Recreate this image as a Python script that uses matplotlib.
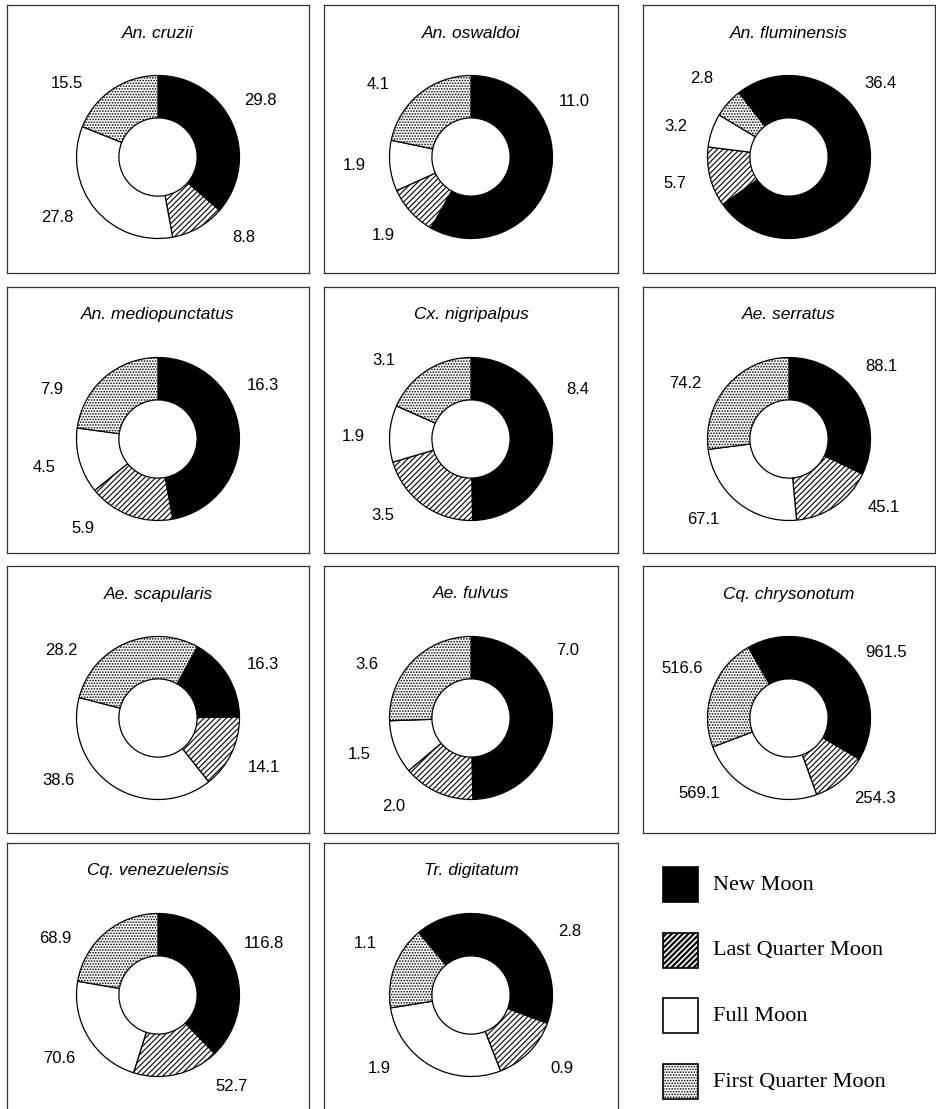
import numpy as np
import matplotlib.pyplot as plt
from matplotlib.patches import Rectangle

plt.rcParams["font.family"] = ["Liberation Sans", "DejaVu Sans"]
plt.rcParams["hatch.linewidth"] = 0.8

# data: mean catches per moon phase
species = ["An. cruzii", "An. oswaldoi", "An. fluminensis",
           "An. mediopunctatus", "Cx. nigripalpus", "Ae. serratus",
           "Ae. scapularis", "Ae. fulvus", "Cq. chrysonotum",
           "Cq. venezuelensis", "Tr. digitatum"]
new_moon = [29.8, 11.0, 36.4, 16.3, 8.4, 88.1, 16.3, 7.0, 961.5, 116.8, 2.8]
last_quarter = [8.8, 1.9, 5.7, 5.9, 3.5, 45.1, 14.1, 2.0, 254.3, 52.7, 0.9]
full_moon = [27.8, 1.9, 3.2, 4.5, 1.9, 67.1, 38.6, 1.5, 569.1, 70.6, 1.9]
first_quarter = [15.5, 4.1, 2.8, 7.9, 3.1, 74.2, 28.2, 3.6, 516.6, 68.9, 1.1]
phases = ["New Moon", "Last Quarter Moon", "Full Moon", "First Quarter Moon"]

# style / layout
face_colors = ["black", "white", "white", "white"]
hatches = [None, "//////", None, "......"]
start_angles = [0, 0, -38, 0, 0, 0, 29, 0, -30, 0, -40]   # degrees clockwise from top
label_angles = [[61, 133, 239, 309], [62, 228, 266, 308], [51, 257, 285, 312],
                [63, 220, 256, 295], [65, 229, 271, 312], [52, 126, 227, 298],
                [63, 115, 238, 305], [55, 221, 252, 297], [56, 133, 230, 295],
                [64, 141, 237, 299], [57, 129, 231, 296]]

W, H = 936, 1109
col_x = [7, 324, 643]
col_w = [302, 294, 292]
row_y = [5, 287, 566, 843]
row_h = [268, 266, 267, 272]
R = 81.5          # outer radius in px
ring_dy = 152     # ring centre below panel top
title_dy = 28
label_r = 1.44

fig = plt.figure(figsize=(W / 100, H / 100), dpi=100)


def px_axes(x0, y0, w, h):
    return fig.add_axes([x0 / W, 1 - (y0 + h) / H, w / W, h / H])


for i, name in enumerate(species):
    r, c = divmod(i, 3)
    x0, y0, w, h = col_x[c], row_y[r], col_w[c], row_h[r]
    ax = px_axes(x0, y0, w, h)
    vals = [new_moon[i], last_quarter[i], full_moon[i], first_quarter[i]]
    wedges, _ = ax.pie(vals, colors=face_colors, startangle=90 - start_angles[i],
                       counterclock=False, radius=1, frame=True,
                       wedgeprops=dict(width=0.52, edgecolor="black", linewidth=0.9))
    for wd, ht in zip(wedges, hatches):
        if ht:
            wd.set_hatch(ht)
    ax.set_aspect("auto")
    ax.set_xlim(-w / 2 / R, w / 2 / R)
    ax.set_ylim(-(h - ring_dy) / R, ring_dy / R)
    ax.set_xticks([])
    ax.set_yticks([])
    for sp in ax.spines.values():
        sp.set_linewidth(0.9)
        sp.set_color("#333333")
    ax.text(0, (ring_dy - title_dy) / R, name, ha="center", va="center",
            style="italic", fontsize=12.5)
    for v, a in zip(vals, label_angles[i]):
        t = np.radians(a)
        ax.text(label_r * np.sin(t), label_r * np.cos(t), "{:.1f}".format(v),
                ha="center", va="center", fontsize=12)

# legend panel (bolder stripes, like the original)
legend_hatches = [None, "//////", None, "......"]
legend_hatch_lw = [1.0, 1.6, 1.0, 0.8]
lax = px_axes(643, 843, 292, 266)
lax.set_xlim(0, 292)
lax.set_ylim(266, 0)
lax.axis("off")
for k, ph in enumerate(phases):
    y = 24 + k * 65.7
    plt.rcParams["hatch.linewidth"] = legend_hatch_lw[k]
    lax.add_patch(Rectangle((20, y), 35, 35, facecolor=face_colors[k],
                            edgecolor="black", linewidth=1.2,
                            hatch=legend_hatches[k]))
    lax.text(70, y + 18, ph, ha="left", va="center", fontsize=16,
             family="Liberation Serif")

plt.savefig("out.png", dpi=100)
